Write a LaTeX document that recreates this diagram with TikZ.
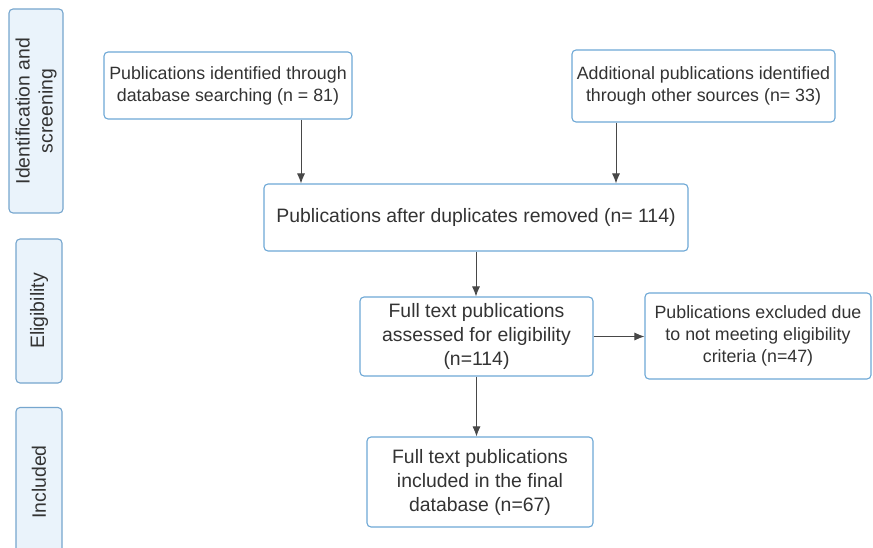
\documentclass[tikz,border=0pt]{standalone}
\usepackage{fontspec}
\setmainfont{Liberation Sans}
\usetikzlibrary{arrows.meta}
\definecolor{boxline}{RGB}{110,168,214}
\definecolor{barfill}{RGB}{234,243,251}
\definecolor{barline}{RGB}{118,166,206}
\definecolor{txt}{RGB}{51,51,51}
\definecolor{arr}{RGB}{72,72,72}
\tikzset{
  flowbox/.style={draw=boxline, line width=1.1pt, fill=white, rounded corners=4pt,
    align=center, text=txt, inner sep=0pt},
  small/.style={font=\fontsize{17.8}{22}\selectfont},
  big/.style={font=\fontsize{19.4}{24}\selectfont},
  stagebar/.style={draw=barline, line width=1.1pt, fill=barfill, rounded corners=4pt,
    text=txt, inner sep=0pt},
  stagelabel/.style={rotate=90, align=center, text=txt, font=\fontsize{19.4}{23}\selectfont},
  flowarrow/.style={draw=arr, line width=0.9pt, -{Latex[length=10pt,width=8pt]}}
}
\begin{document}
\begin{tikzpicture}[x=1pt,y=-1pt]
\clip (0,0) rectangle (873,548);
\fill[white] (0,0) rectangle (873,548);
% stage bars
\node[stagebar, minimum width=54pt, minimum height=204pt] (bar1) at (36,111) {};
\node[stagelabel] (lab1) at (bar1.center) {Identification and\\screening};
\node[stagebar, minimum width=46pt, minimum height=144pt] (bar2) at (39,311) {};
\node[stagelabel] (lab2) at (bar2.center) {Eligibility};
\node[stagebar, minimum width=46pt, minimum height=153pt] (bar3) at (39,484) {};
\node[stagelabel] (lab3) at (39,482) {Included};
% boxes
\node[flowbox, small, minimum width=248pt, minimum height=67pt] (A) at (228,85.5)
  {Publications identified through\\database searching (n = 81)};
\node[flowbox, small, minimum width=263pt, minimum height=72pt] (B) at (703.5,86)
  {Additional publications identified\\through other sources (n= 33)};
\node[flowbox, big, minimum width=424pt, minimum height=67pt] (C) at (476,217.5)
  {Publications after duplicates removed (n= 114)};
\node[flowbox, big, minimum width=233pt, minimum height=79pt] (D) at (476.5,336.5)
  {Full text publications\\assessed for eligibility\\(n=114)};
\node[flowbox, small, minimum width=226pt, minimum height=86pt] (E) at (758,336)
  {Publications excluded due\\to not meeting eligibility\\criteria (n=47)};
\node[flowbox, big, minimum width=226pt, minimum height=90pt] (F) at (480,482)
  {Full text publications\\included in the final\\database (n=67)};
% arrows
\draw[flowarrow] ([xshift=73pt]A.south) -- ([xshift=73pt]A.south |- C.north);
\draw[flowarrow] ([xshift=-87.5pt]B.south) -- ([xshift=-87.5pt]B.south |- C.north);
\draw[flowarrow] (C.south) -- (C.south |- D.north);
\draw[flowarrow] (D.east) -- (D.east -| E.west);
\draw[flowarrow] (D.south) -- (D.south |- F.north);
\end{tikzpicture}
\end{document}
